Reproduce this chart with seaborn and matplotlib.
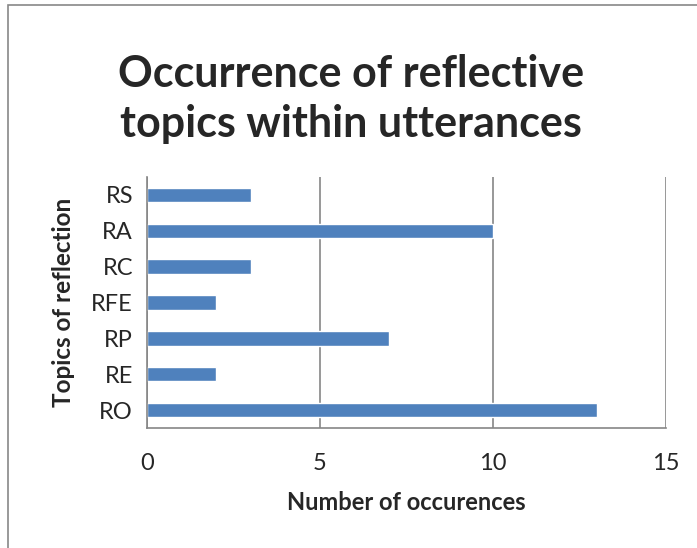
import numpy as np
import pandas as pd
import seaborn as sns
import matplotlib.pyplot as plt
from matplotlib.patches import Rectangle

# Data
topics = ["RS", "RA", "RC", "RFE", "RP", "RE", "RO"]
occurrences = [3, 10, 3, 2, 7, 2, 13]
x_ticks = [0, 5, 10, 15]

df = pd.DataFrame({"Topic": topics, "Count": occurrences})

sns.set_style("white")
plt.rcParams["font.family"] = ["Lato", "DejaVu Sans"]

fig = plt.figure(figsize=(6.97, 5.48), dpi=100)
ax = fig.add_axes([147 / 697, 1 - 428 / 548, (666 - 147) / 697, (428 - 177) / 548])

sns.barplot(data=df, x="Count", y="Topic", order=topics, orient="h",
            color="#4F81BD", saturation=1, width=0.4, ax=ax)

grey = "#868686"
ax.set_xlim(0, 15)
ax.set_ylim(len(topics) - 0.5, -0.5)
ax.set_xticks(x_ticks)
ax.set_xticklabels([str(t) for t in x_ticks], fontsize=17)
ax.tick_params(axis="x", length=6, width=1.2, color=grey, pad=12)
ax.tick_params(axis="y", which="major", length=0, labelsize=17, pad=10)
ax.set_yticks(np.arange(-0.5, len(topics), 1), minor=True)
ax.tick_params(axis="y", which="minor", length=7, width=1.2, color=grey)
ax.xaxis.grid(True, color=grey, linewidth=1.2)
ax.set_axisbelow(True)
for side in ["top", "right"]:
    ax.spines[side].set_visible(False)
for side in ["left", "bottom"]:
    ax.spines[side].set_color(grey)
    ax.spines[side].set_linewidth(1.2)

ax.set_xlabel("Number of occurences", fontsize=17, fontweight="bold", labelpad=12)
ax.set_ylabel("Topics of reflection", fontsize=17.5, fontweight="bold", labelpad=12)

fig.text(351 / 697, 1 - 99 / 548, "Occurrence of reflective\ntopics within utterances",
         ha="center", va="center", fontsize=31, fontweight="bold", linespacing=1.3)

# outer chart frame (cut off at right and bottom in the reference)
fig.patches.append(Rectangle((8 / 697, -0.1), 1.2, 1 - 5 / 548 + 0.1,
                             transform=fig.transFigure, fill=False,
                             edgecolor="#888888", linewidth=1.2))

fig.savefig("out.png", dpi=100)
